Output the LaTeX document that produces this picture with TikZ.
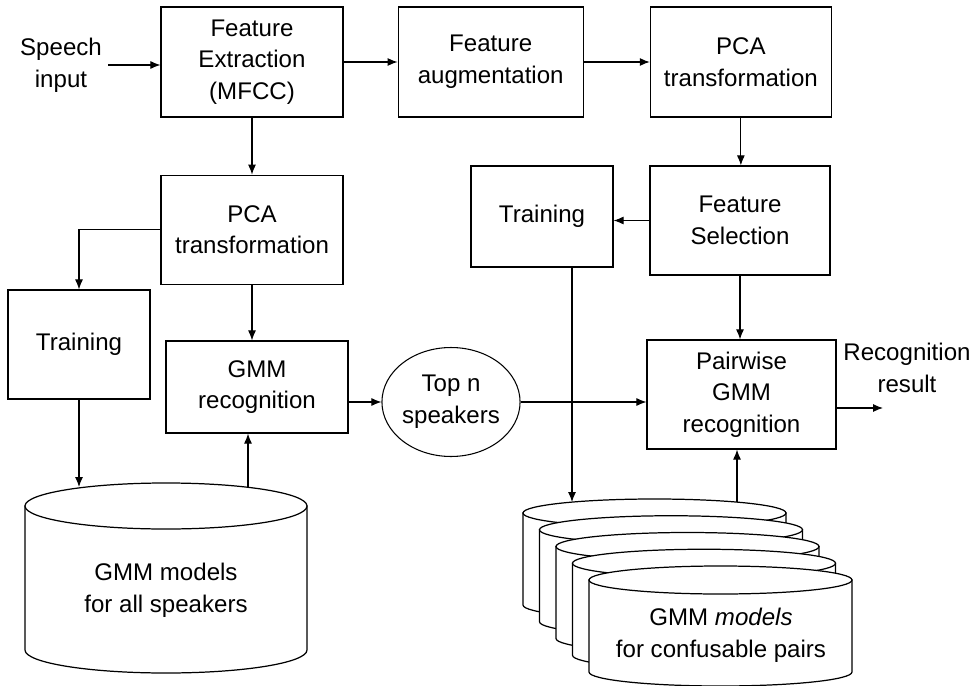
\documentclass[tikz,border=0pt]{standalone}
\usepackage{fontspec}
\setmainfont{Liberation Sans}
\usetikzlibrary{positioning, calc, shapes, arrows.meta}

\begin{document}
\begin{tikzpicture}[x=0.02cm, y=-0.02cm, >={Latex[length=2mm,width=1.6mm]}]
	\tikzstyle{every node}=[align=center, font=\fontsize{13.7}{18}\selectfont]
	\tikzstyle{every path}=[line width=0.6pt]
	\tikzstyle{block}=[draw, line width=0.7pt, inner sep=0pt]
	\tikzstyle{db}=[draw, line width=0.7pt, fill=white]
	
	\useasboundingbox (0,0) rectangle (980,686);
	
	%% Linha de cima
	\node (speech) at (61,65) {Speech\\input};
	\node [block, minimum width=3.64cm, minimum height=2.2cm] at (252,62) (fext) {Feature\\Extraction\\(MFCC)};
	\node [block, minimum width=3.7cm, minimum height=2.2cm, right=1.08cm of fext] (faug) {Feature\\augmentation};
	\node [block, minimum width=3.62cm, minimum height=2.2cm, right=1.32cm of faug] (pca2) {PCA\\transformation};
	
	%% Ramo da esquerda
	\node [block, minimum width=3.64cm, minimum height=2.18cm, below=1.14cm of fext] (pca1) {PCA\\transformation};
	\node [block, minimum width=2.84cm, minimum height=2.18cm] at (79,344.5) (train1) {Training};
	\node [block, minimum width=3.64cm, minimum height=1.84cm] at (257,387) (gmmrec) {GMM\\recognition};
	\node [draw, ellipse, inner sep=0pt, minimum width=2.52cm, minimum height=2.18cm] at (451,402) (topn) {Top n\\speakers};
	
	%% Ramo da direita
	\node [block, minimum width=2.84cm, minimum height=2.02cm] at (542,216.5) (train2) {Training};
	\node [block, minimum width=3.6cm, minimum height=2.18cm] at (740,220.5) (fsel) {Feature\\Selection};
	\node [block, minimum width=3.78cm, minimum height=2.18cm] at (741.5,394.5) (pair) {Pairwise\\GMM\\recognition};
	\node at (907,368) (result) {Recognition\\result};
	
	%% Modelos de todos os locutores
	\filldraw[db] (25,506) -- (25,650) arc[start angle=180, end angle=0, x radius=141, y radius=23] -- (307,506) -- cycle;
	\filldraw[db] (166,506) ellipse [x radius=141, y radius=23];
	\node at (166,590) (dball) {GMM models\\for all speakers};
	\coordinate (dball-in) at (79,487);
	\coordinate (dball-out) at (248,487);
	
	%% Modelos dos pares
	\foreach \k in {0,...,4} {
		\pgfmathsetmacro\cx{654.5+16.5*\k}
		\pgfmathsetmacro\ty{513+16.75*\k}
		\filldraw[db] (\cx-131.5,\ty) -- (\cx-131.5,\ty+92) arc[start angle=180, end angle=0, x radius=131.5, y radius=14] -- (\cx+131.5,\ty) -- cycle;
		\filldraw[db] (\cx,\ty) ellipse [x radius=131.5, y radius=14];
	}
	\node at (721,635) (dbpairs) {GMM \textit{models}\\for confusable pairs};
	\coordinate (pairs-in) at (572,502);
	\coordinate (pairs-out) at (737,502);
	
	%% Setas
	\draw[->] (speech.east) -- (speech.east -| fext.west);
	\draw[->] (fext) -- (faug);
	\draw[->] (faug) -- (pca2);
	\draw[->] (fext) -- (pca1);
	\draw[->] (pca1.west) -| (train1.north);
	\draw[->] (pca1.south) -- (pca1.south |- gmmrec.north);
	\draw[->] (train1.south) -- (dball-in);
	\draw[->] (dball-out) -- (dball-out |- gmmrec.south);
	\draw[->] (gmmrec.east |- topn.west) -- (topn.west);
	\draw[->] (topn.east) -- (topn.east -| pair.west);
	\draw[->] (pca2.south) -- (pca2.south |- fsel.north);
	\draw[->] (fsel.west) -- (fsel.west -| train2.east);
	\draw[->] (fsel.south) -- (fsel.south |- pair.north);
	\draw[->] (train2.south -| pairs-in) -- (pairs-in);
	\draw[->] (pairs-out) -- (pairs-out |- pair.south);
	\draw[->] (pair.east |- 0,408) -- (883,408);
\end{tikzpicture}
\end{document}
